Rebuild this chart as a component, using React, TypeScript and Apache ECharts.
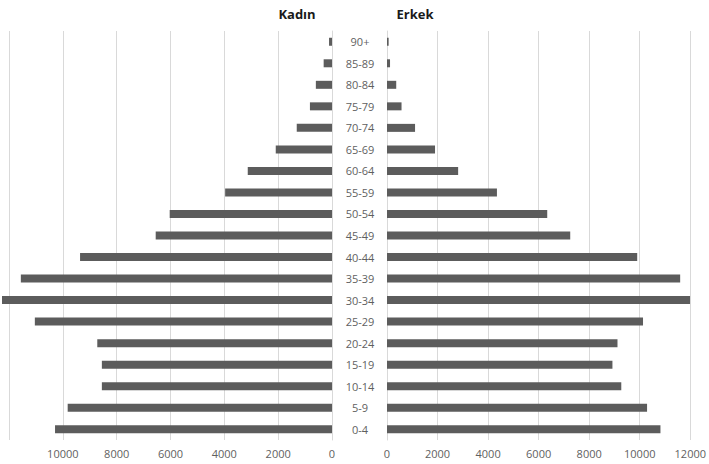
import React, { useEffect, useRef } from "react";
import * as echarts from "echarts";

const categories = ["0-4", "5-9", "10-14", "15-19", "20-24", "25-29", "30-34", "35-39", "40-44", "45-49", "50-54", "55-59", "60-64", "65-69", "70-74", "75-79", "80-84", "85-89", "90+"];
const kadin = [10290, 9820, 8550, 8550, 8720, 11040, 12260, 11560, 9360, 6550, 6030, 3970, 3130, 2090, 1310, 820, 600, 310, 110];
const erkek = [10820, 10290, 9270, 8920, 9120, 10130, 11990, 11600, 9900, 7250, 6340, 4350, 2815, 1900, 1110, 575, 365, 120, 65];
const titles = ["Kadın", "Erkek"];

export default function App() {
  const ref = useRef<HTMLDivElement>(null);
  useEffect(() => {
    if (!ref.current) return;
    const chart = echarts.init(ref.current, null, { renderer: "svg" });
    const font = "'Liberation Sans Narrow', 'Open Sans', sans-serif";
    const labelColor = "#5f5f5f";
    const gridColor = "#d9d9d9";
    const barColor = "#5c5c5c";
    chart.setOption({
      animation: false,
      backgroundColor: "#ffffff",
      graphic: [
        { type: "text", x: 297, y: 14, style: { text: titles[0], font: "bold 13px 'Open Sans', sans-serif", fill: "#1a1a1a", textAlign: "center", textVerticalAlign: "middle" } },
        { type: "text", x: 415, y: 14, style: { text: titles[1], font: "bold 13px 'Open Sans', sans-serif", fill: "#1a1a1a", textAlign: "center", textVerticalAlign: "middle" } },
      ],
      grid: [
        { left: 9, right: 377, top: 31, bottom: 24 },
        { left: 387, right: 15, top: 31, bottom: 24 },
      ],
      xAxis: [
        {
          type: "value", gridIndex: 0, inverse: true, min: 0, max: 12000, interval: 2000,
          axisLine: { show: false }, axisTick: { show: false },
          splitLine: { show: true, lineStyle: { color: gridColor, width: 1 } },
          axisLabel: { color: labelColor, fontSize: 11, fontFamily: font, margin: 8, showMaxLabel: true,
            formatter: (v: number) => (v === 12000 ? "" : String(v)) },
        },
        {
          type: "value", gridIndex: 1, min: 0, max: 12000, interval: 2000,
          axisLine: { show: false }, axisTick: { show: false },
          splitLine: { show: true, lineStyle: { color: gridColor, width: 1 } },
          axisLabel: { color: labelColor, fontSize: 11, fontFamily: font, margin: 8, showMaxLabel: true,
            formatter: (v: number) => String(v) },
        },
      ],
      yAxis: [
        {
          type: "category", gridIndex: 0, data: categories, position: "right",
          axisLine: { show: true, lineStyle: { color: gridColor } }, axisTick: { show: false },
          axisLabel: { show: false },
        },
        {
          type: "category", gridIndex: 1, data: categories, position: "left",
          axisLine: { show: true, lineStyle: { color: gridColor } }, axisTick: { show: false },
          axisLabel: { show: true, align: "center", margin: 27, color: labelColor, fontSize: 11, fontFamily: font },
        },
      ],
      series: [
        { type: "bar", xAxisIndex: 0, yAxisIndex: 0, data: kadin, barWidth: 8, clip: false, itemStyle: { color: barColor } },
        { type: "bar", xAxisIndex: 1, yAxisIndex: 1, data: erkek, barWidth: 8, clip: false, itemStyle: { color: barColor } },
      ],
    });
    return () => chart.dispose();
  }, []);
  return <div ref={ref} style={{ width: 709, height: 464, position: "absolute", left: 0, top: 0 }} />;
}
